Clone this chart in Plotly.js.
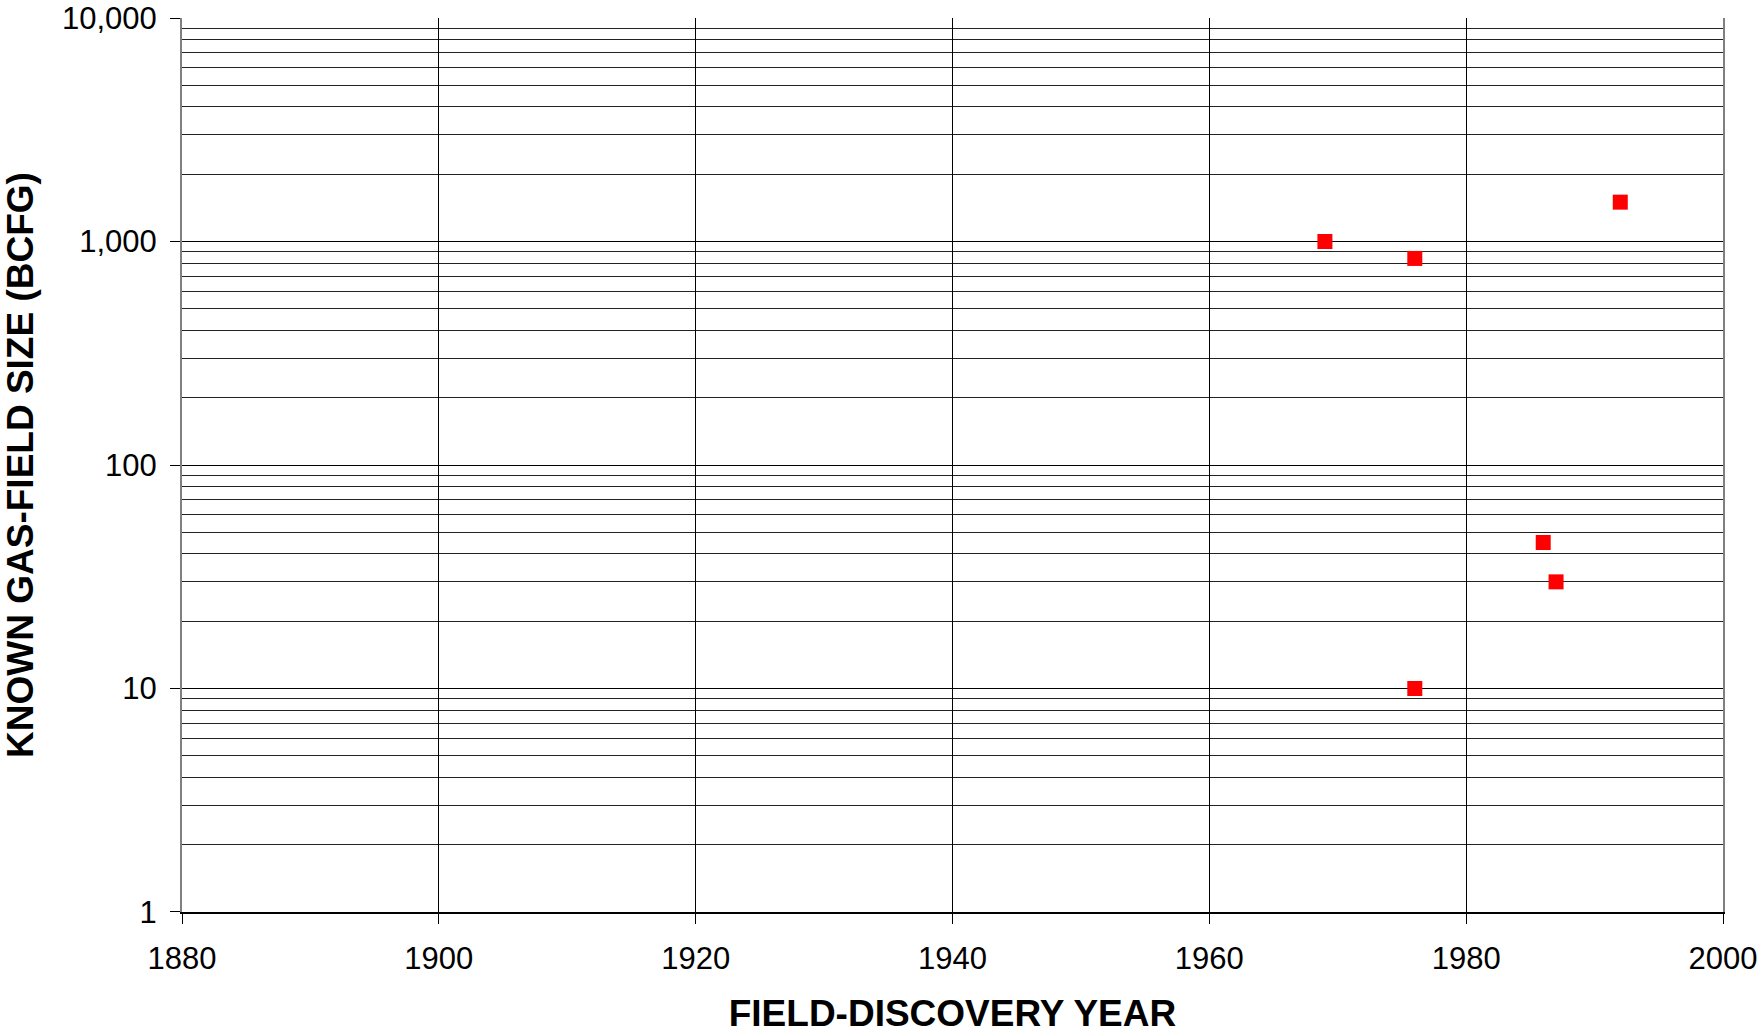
<!DOCTYPE html>
<html>
<head>
<meta charset="utf-8">
<script src="https://cdn.plot.ly/plotly-3.0.1.min.js"></script>
<style>html,body{margin:0;padding:0;background:#fff;}#chart{width:1760px;height:1034px;}</style>
</head>
<body>
<div id="chart"></div>
<script>
// Data
const discoveryYear = [1969, 1976, 1992, 1976, 1986, 1987];
const fieldSizeBCFG = [1000, 840, 1500, 10, 45, 30];

const yMajorTicks = [1, 10, 100, 1000, 10000];
const yMajorLabels = ['1', '10', '100', '1,000', '10,000'];
const yMinorTicks = [];
[1, 10, 100, 1000].forEach(function (d) {
  for (let k = 2; k <= 9; k++) yMinorTicks.push(k * d);
});
const xTicks = [1880, 1900, 1920, 1940, 1960, 1980, 2000];

const trace = {
  type: 'scatter',
  mode: 'markers',
  x: discoveryYear,
  y: fieldSizeBCFG,
  marker: { symbol: 'square', size: 15, color: '#ff0000', line: { width: 0 } },
  hoverinfo: 'x+y'
};

const font = 'Liberation Sans, Arial, sans-serif';

const layout = {
  width: 1760,
  height: 1034,
  margin: { l: 182, r: 37, t: 18, b: 122 },
  paper_bgcolor: '#ffffff',
  plot_bgcolor: '#ffffff',
  showlegend: false,
  font: { family: font, color: '#000', size: 31 },
  xaxis: {
    range: [1880, 2000],
    tickmode: 'array',
    tickvals: xTicks,
    ticktext: xTicks.map(String),
    ticks: 'outside',
    ticklen: 10,
    tickcolor: '#000',
    tickwidth: 1,
    ticklabelstandoff: 8,
    ticklabeloverflow: 'allow',
    showgrid: true,
    gridcolor: '#000',
    gridwidth: 1,
    showline: true,
    linecolor: '#000',
    linewidth: 2,
    zeroline: false,
    tickfont: { family: font, size: 31, color: '#000' },
    title: { text: 'FIELD-DISCOVERY YEAR', font: { family: font, size: 37, color: '#000', weight: 'bold' }, standoff: 33 }
  },
  yaxis: {
    type: 'log',
    range: [-0.00005, 4.00005],
    tickmode: 'array',
    tickvals: yMajorTicks,
    ticktext: yMajorLabels,
    ticks: 'outside',
    ticklen: 10,
    tickcolor: '#000',
    tickwidth: 1,
    ticklabelstandoff: 7,
    ticklabeloverflow: 'allow',
    showgrid: true,
    gridcolor: '#000',
    gridwidth: 1,
    minor: { tickmode: 'array', tickvals: yMinorTicks, showgrid: true, gridcolor: '#222', gridwidth: 1, ticks: '' },
    showline: true,
    linecolor: '#808080',
    linewidth: 2,
    mirror: true,
    zeroline: false,
    tickfont: { family: font, size: 31, color: '#000' },
    title: { text: 'KNOWN GAS-FIELD SIZE (BCFG)', font: { family: font, size: 37, color: '#000', weight: 'bold' }, standoff: 37 }
  }
};

Plotly.newPlot('chart', [trace], layout, { displayModeBar: false, responsive: false });
</script>
</body>
</html>
